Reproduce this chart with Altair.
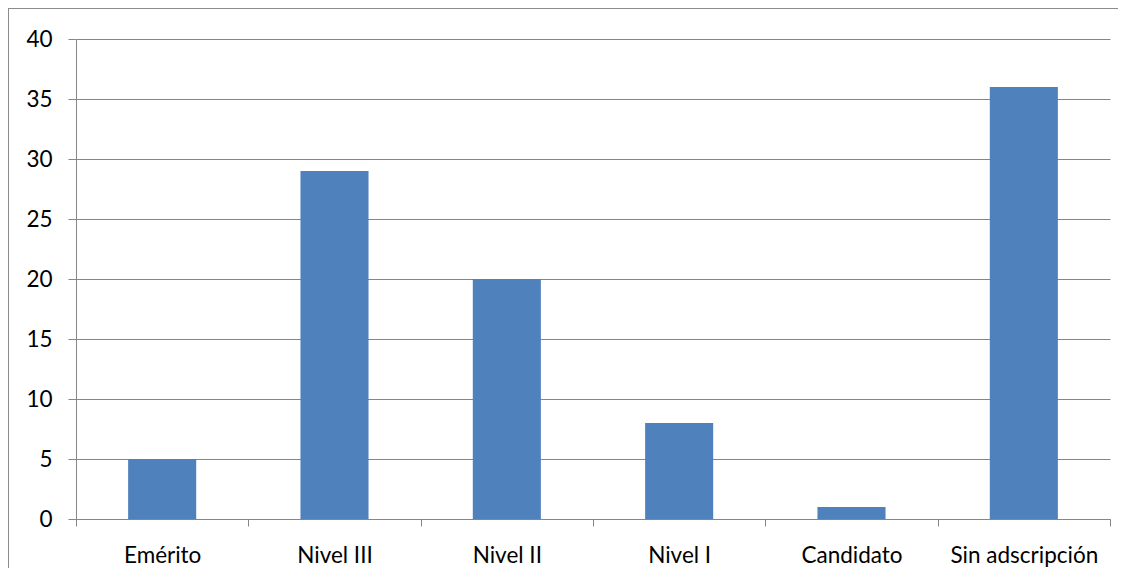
import altair as alt
import pandas as pd

categories = ["Emérito", "Nivel III", "Nivel II", "Nivel I", "Candidato", "Sin adscripción"]
values = [5, 29, 20, 8, 1, 36]
y_ticks = [0, 5, 10, 15, 20, 25, 30, 35, 40]

df = pd.DataFrame({"cat": categories, "val": values})

FONT = "Lato"
GRAY = "#868686"

bars = alt.Chart(df).mark_bar(
    color="#4F81BD", width=alt.RelativeBandSize(0.395)
).encode(
    x=alt.X("cat:N", sort=categories,
            scale=alt.Scale(paddingInner=0, paddingOuter=0),
            axis=alt.Axis(title=None, labelAngle=0, tickBand="extent",
                          tickSize=7, tickColor=GRAY, domainColor=GRAY,
                          labelFont=FONT, labelFontSize=22.5, labelColor="black",
                          labelFontWeight="normal",
                          labelPadding=18, grid=False)),
    y=alt.Y("val:Q", scale=alt.Scale(domain=[0, 40], nice=False),
            axis=alt.Axis(title=None, values=y_ticks, tickSize=8, tickColor=GRAY,
                          domainColor=GRAY, gridColor=GRAY, grid=True,
                          labelFont=FONT, labelFontSize=22.5, labelColor="black",
                          labelPadding=16)),
)

border_left = alt.Chart(df).mark_rule(color="#8c8c8c", strokeWidth=1).encode(
    x=alt.value(-67.5), y=alt.value(-30.5), y2=alt.value(560)
)
border_top = alt.Chart(df).mark_rule(color="#8c8c8c", strokeWidth=1).encode(
    x=alt.value(-67.5), x2=alt.value(1100), y=alt.value(-30.5)
)

chart = alt.layer(bars, border_left, border_top).properties(
    width=1034, height=480,
    autosize=alt.AutoSizeParams(type="none"),
    padding={"left": 68, "top": 31, "right": 8, "bottom": 49},
).configure_view(stroke=None).configure_axis(domainWidth=1, tickWidth=1, gridWidth=1)

chart.save("out.html", embed_options={"renderer": "svg", "actions": False})
